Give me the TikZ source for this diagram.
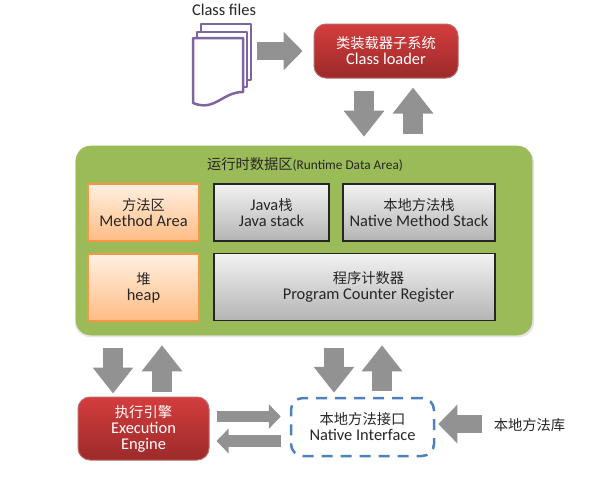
\documentclass[tikz,border=0pt]{standalone}
\usepackage{fontspec}
\setmainfont{Carlito}
\newfontfamily\cjk[Scale=0.87]{Noto Sans CJK SC}
\usetikzlibrary{arrows.meta}
\lineskiplimit=-20pt\relax
\def\px{0.75pt}
\definecolor{grn}{HTML}{9BBB59}
\definecolor{arr}{HTML}{929292}
\definecolor{pur}{HTML}{8064A2}
\definecolor{dash}{HTML}{4F81BD}
\definecolor{redtop}{HTML}{D43D3D}
\definecolor{redbot}{HTML}{9C2A2A}
\definecolor{orangetop}{HTML}{FFF0E2}
\definecolor{orangebot}{HTML}{FFBC84}
\definecolor{orangeline}{HTML}{F79646}
\definecolor{greytop}{HTML}{F2F2F2}
\definecolor{greybot}{HTML}{B4B4B4}
\tikzset{
 x=0.75pt,y=-0.75pt,
 lbl/.style={align=center,inner sep=0pt,font=\fontsize{12.3pt}{12pt}\selectfont,text=black!85},
 redbox/.style={lbl,rounded corners=9pt,top color=redtop,bottom color=redbot,draw=redbot!70!white,line width=1*\px,text=white},
 orangebox/.style={lbl,top color=orangetop,bottom color=orangebot,draw=orangeline,line width=2.5*\px},
 greybox/.style={lbl,top color=greytop,bottom color=greybot,draw=black!85,line width=1.5*\px},
 page/.style={draw=pur,line width=2.5*\px,fill=white,line join=round},
 blk/.style={draw=arr,line width=20*\px,-{Triangle[width=39*\px,length=26*\px]},color=arr},
 blkthin/.style={draw=arr,line width=11.5*\px,-{Triangle[width=24*\px,length=12*\px]},color=arr},
 blkwide/.style={draw=arr,line width=18.5*\px,-{Triangle[width=37.5*\px,length=19*\px]},color=arr},
}
\begin{document}
\begin{tikzpicture}
\useasboundingbox[fill=white] (0,0) rectangle (591,500);
% class files
\node[lbl] (cf) at (224,10) {Class files};
\node[minimum width=58*\px,minimum height=83*\px,inner sep=0pt] (files) at (222,65.5) {};
\draw[page] (201,24) rectangle (251,80);
\draw[page] (197,32) rectangle (247,87);
\draw[page] (193,38) -- (243,38) -- (243,92) .. controls (222,92) and (215,112) .. (193,103) -- cycle;
% boxes
\node[redbox,minimum width=144*\px,minimum height=54*\px] (loader) at (386,51) {{\cjk 类装载器子系统}\\Class loader};
\fill[black!10,rounded corners=11pt] (75,148) rectangle (534,337);
\node[rounded corners=11pt,fill=grn,draw=grn,minimum width=456*\px,minimum height=189*\px,inner sep=0pt] (area) at (304,240.5) {};
\node[lbl] (title) at (305,164) {{\cjk 运行时数据区}{\fontsize{10pt}{12pt}\selectfont(Runtime Data Area)}};
\node[orangebox,minimum width=111*\px,minimum height=57*\px] (method) at (143.5,212.5) {{\cjk 方法区}\\Method Area};
\node[orangebox,minimum width=111*\px,minimum height=67*\px] (heap) at (143.5,287.5) {{\cjk 堆}\\heap};
\node[greybox,minimum width=115*\px,minimum height=57*\px] (jstack) at (271.5,212.5) {Java{\cjk 栈}\\Java stack};
\node[greybox,minimum width=152*\px,minimum height=57*\px] (nstack) at (419,212.5) {{\cjk 本地方法栈}\\Native Method Stack};
\node[greybox,minimum width=281*\px,minimum height=67*\px] (pc) at (354.5,287) {};
\node[lbl] (pctext) at (368.5,287) {{\cjk 程序计数器}\\Program Counter Register};
\node[redbox,minimum width=131*\px,minimum height=63*\px] (engine) at (143.5,428.5) {{\cjk 执行引擎}\\Execution\\Engine};
\node[lbl,draw=dash,line width=2.5*\px,dash pattern=on 11*\px off 8*\px,rounded corners=9pt,minimum width=143*\px,minimum height=58*\px,fill=white] (native) at (362.5,427) {{\cjk 本地方法接口}\\Native Interface};
\node[lbl] (lib) at (529.5,425) {{\cjk 本地方法库}};
% arrows
\draw[blkwide] ([shift={(6,-14.5)}]files.east) -- ([shift={(-11,0)}]loader.west);
\draw[blk] ([shift={(-22,12)}]loader.south) -- ([shift={(60,-9)}]area.north);
\draw[blk] ([shift={(109,-12)}]area.north) -- ([shift={(27,9)}]loader.south);
\draw[blk] ([shift={(-191,13)}]area.south) -- ([shift={(-30.5,-3)}]engine.north);
\draw[blk] ([shift={(18.5,-5)}]engine.north) -- ([shift={(-142,10)}]area.south);
\draw[blk] ([shift={(30,13)}]area.south) -- ([shift={(-28.5,-4)}]native.north);
\draw[blk] ([shift={(19.5,-6)}]native.north) -- ([shift={(78,10)}]area.south);
\draw[blkthin] ([shift={(7,-12)}]engine.east) -- ([shift={(-9,-10.5)}]native.west);
\draw[blkthin] ([shift={(-9,14)}]native.west) -- ([shift={(7,12.5)}]engine.east);
\draw[blkwide] ([shift={(-12,-1)}]lib.west) -- ([shift={(3,-3)}]native.east);
\end{tikzpicture}
\end{document}
